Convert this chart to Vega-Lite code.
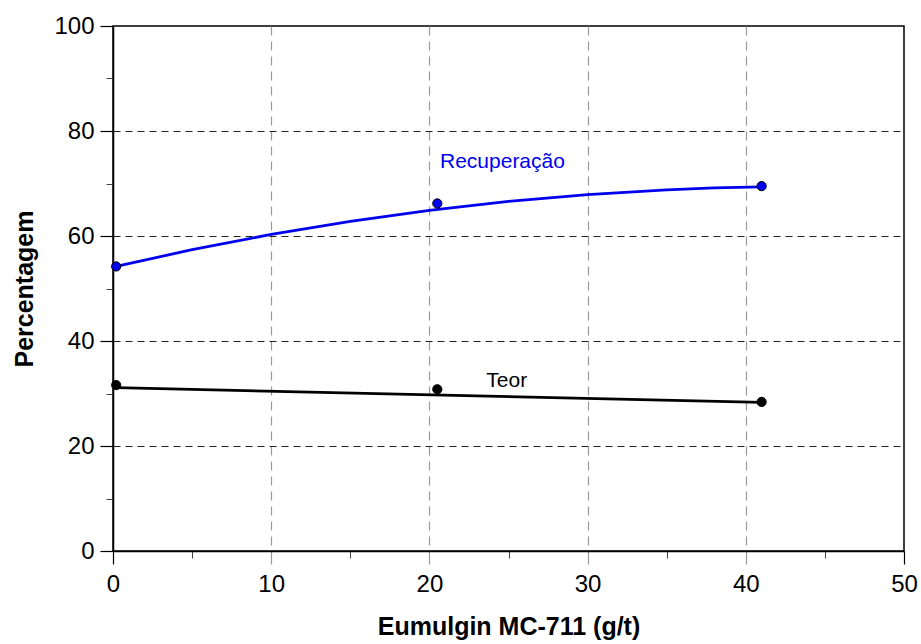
{
  "$schema": "https://vega.github.io/schema/vega-lite/v6.json",
  "width": 791,
  "height": 525,
  "autosize": "none",
  "padding": {"left": 113, "top": 26, "right": 17, "bottom": 93},
  "background": "white",
  "config": {
    "font": "Liberation Sans",
    "view": {"stroke": "black", "strokeWidth": 1.5},
    "axis": {
      "domainColor": "black",
      "domainWidth": 1.5,
      "labelFont": "Liberation Sans",
      "labelFontSize": 24,
      "labelColor": "black",
      "labelFlush": false,
      "labelOverlap": false,
      "titleFont": "Liberation Sans",
      "titleFontSize": 25,
      "titleFontWeight": "bold",
      "titleColor": "black"
    }
  },
  "datasets": {
    "fit": [
      {"series": "Recuperação", "x": 0.2, "y": 54.2},
      {"series": "Recuperação", "x": 5, "y": 57.4},
      {"series": "Recuperação", "x": 10, "y": 60.3},
      {"series": "Recuperação", "x": 15, "y": 62.8},
      {"series": "Recuperação", "x": 20, "y": 64.9},
      {"series": "Recuperação", "x": 25, "y": 66.6},
      {"series": "Recuperação", "x": 30, "y": 67.9},
      {"series": "Recuperação", "x": 35, "y": 68.8},
      {"series": "Recuperação", "x": 38, "y": 69.15},
      {"series": "Recuperação", "x": 41, "y": 69.35},
      {"series": "Teor", "x": 0.2, "y": 31.1},
      {"series": "Teor", "x": 41, "y": 28.3}
    ],
    "pts": [
      {"series": "Recuperação", "x": 0.2, "y": 54.2},
      {"series": "Recuperação", "x": 20.5, "y": 66.2},
      {"series": "Recuperação", "x": 41, "y": 69.5},
      {"series": "Teor", "x": 0.2, "y": 31.6},
      {"series": "Teor", "x": 20.5, "y": 30.8},
      {"series": "Teor", "x": 41, "y": 28.4}
    ],
    "labels": [
      {"series": "Recuperação", "x": 20.67, "y": 72.95, "text": "Recuperação"},
      {"series": "Teor", "x": 23.6, "y": 31.2, "text": "Teor"}
    ]
  },
  "layer": [
    {
      "data": {"name": "pts"},
      "mark": {"type": "point", "opacity": 0},
      "encoding": {
        "x": {
          "field": "x", "type": "quantitative",
          "scale": {"domain": [0, 50], "nice": false, "zero": false},
          "axis": {
            "orient": "bottom",
            "values": [5, 15, 25, 35, 45],
            "labels": false, "domain": false, "grid": false, "title": null,
            "tickSize": 7, "tickColor": "#444", "tickWidth": 1
          }
        },
        "y": {
          "field": "y", "type": "quantitative",
          "scale": {"domain": [0, 100], "nice": false, "zero": false},
          "axis": {
            "orient": "left",
            "values": [10, 30, 50, 70, 90],
            "labels": false, "domain": false, "grid": false, "title": null,
            "tickSize": 7, "tickColor": "#444", "tickWidth": 1
          }
        }
      }
    },
    {
      "data": {"name": "fit"},
      "mark": {"type": "line", "strokeWidth": 2.8},
      "encoding": {
        "x": {
          "field": "x", "type": "quantitative",
          "axis": {
            "orient": "bottom",
            "values": [0, 10, 20, 30, 40, 50],
            "title": "Eumulgin MC-711 (g/t)",
            "titlePadding": 18,
            "labelPadding": 8,
            "tickSize": 13,
            "tickWidth": 1.2,
            "tickColor": {"condition": {"test": "datum.value === 0 || datum.value === 50", "value": "black"}, "value": "#999999"},
            "grid": true,
            "gridColor": "#999999",
            "gridDash": [9, 6],
            "gridWidth": 1.2,
            "gridOpacity": {"condition": {"test": "datum.value === 0 || datum.value === 50", "value": 0}, "value": 1}
          }
        },
        "y": {
          "field": "y", "type": "quantitative",
          "axis": {
            "orient": "left",
            "values": [0, 20, 40, 60, 80, 100],
            "title": "Percentagem",
            "titlePadding": 16,
            "labelPadding": 6,
            "tickSize": 13,
            "tickWidth": 1.2,
            "tickColor": "black",
            "grid": true,
            "gridColor": "#222222",
            "gridDash": [7, 5],
            "gridWidth": 1,
            "gridOpacity": {"condition": {"test": "datum.value === 0 || datum.value === 100", "value": 0}, "value": 1}
          }
        },
        "color": {
          "field": "series", "type": "nominal",
          "scale": {"domain": ["Recuperação", "Teor"], "range": ["#0000ee", "black"]},
          "legend": null
        }
      }
    },
    {
      "data": {"name": "pts"},
      "mark": {"type": "point", "filled": true, "size": 85, "stroke": "black", "strokeWidth": 1, "opacity": 1},
      "encoding": {
        "x": {"field": "x", "type": "quantitative", "axis": null},
        "y": {"field": "y", "type": "quantitative", "axis": null},
        "fill": {
          "field": "series", "type": "nominal",
          "scale": {"domain": ["Recuperação", "Teor"], "range": ["#0000ee", "black"]},
          "legend": null
        }
      }
    },
    {
      "data": {"name": "labels"},
      "mark": {"type": "text", "align": "left", "baseline": "alphabetic", "fontSize": 21, "font": "Liberation Sans"},
      "encoding": {
        "x": {"field": "x", "type": "quantitative", "axis": null},
        "y": {"field": "y", "type": "quantitative", "axis": null},
        "text": {"field": "text"},
        "color": {
          "field": "series", "type": "nominal",
          "scale": {"domain": ["Recuperação", "Teor"], "range": ["#0000ee", "black"]},
          "legend": null
        }
      }
    }
  ],
  "resolve": {"axis": {"x": "independent", "y": "independent"}}
}
